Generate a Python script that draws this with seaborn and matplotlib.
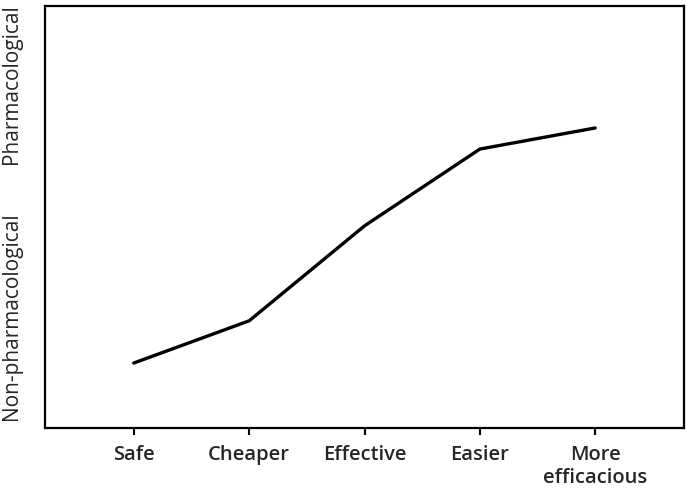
import pandas as pd
import matplotlib
matplotlib.use('Agg')
import matplotlib.pyplot as plt
import seaborn as sns

# ============ DADOS ============
categorias = ['Safe', 'Cheaper', 'Effective', 'Easier', 'More\nefficacious']
valores = [0.154, 0.254, 0.479, 0.661, 0.711]

sns.set_style('white')
plt.rcParams['font.family'] = ['Open Sans', 'DejaVu Sans']

df = pd.DataFrame({'cat': categorias, 'val': valores})

fig = plt.figure(figsize=(6.86, 4.94), dpi=100)
ax = fig.add_axes([45 / 686, 1 - 428 / 494, 639 / 686, 422 / 494])

sns.lineplot(data=df, x='cat', y='val', color='black', lw=2.4, sort=False, ax=ax)

ax.set_xlim(-0.77, 4.77)
ax.set_ylim(0, 1)
ax.set_yticks([])
ax.set_xlabel('')
ax.set_ylabel('')
ax.tick_params(axis='x', bottom=True, direction='out', length=5, width=1.5,
               labelsize=14.5, pad=7, color='black')
for lbl in ax.get_xticklabels():
    lbl.set_fontweight('semibold')
    lbl.set_linespacing(1.25)
for s in ax.spines.values():
    s.set_linewidth(1.6)
    s.set_color('black')

# Rótulos do eixo y
fig.text(12 / 686, 1 - 84 / 494, 'Pharmacological', rotation=90,
         ha='center', va='center', fontsize=15, fontweight='medium')
fig.text(12 / 686, 1 - 316 / 494, 'Non-pharmacological', rotation=90,
         ha='center', va='center', fontsize=15, fontweight='medium')

plt.savefig('out.png', dpi=100)
plt.close()
